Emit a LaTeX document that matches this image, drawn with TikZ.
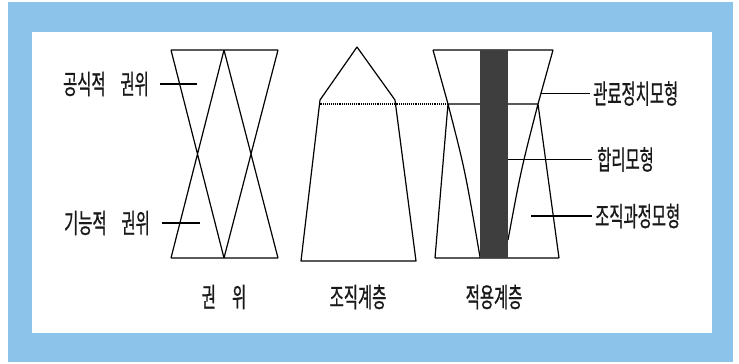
\documentclass[tikz,border=0pt]{standalone}
\usepackage{fontspec}
\newfontfamily\kor[FakeStretch=0.57,FakeBold=0.7]{Noto Sans CJK KR}
\usetikzlibrary{positioning}
\definecolor{panelblue}{RGB}{140,195,235}
\definecolor{bargray}{RGB}{62,62,62}

\begin{document}
\begin{tikzpicture}[x=1pt,y=-1pt]
  \tikzset{
    node distance=3pt,
    every node/.style={inner sep=0pt,text=black!90,font=\kor\fontsize{27}{27}\selectfont},
    edge/.style={line width=1.2pt,line join=round}
  }

  \useasboundingbox (0,0) rectangle (739,364);
  \fill[panelblue] (8,2) rectangle (733,362);
  \fill[white] (32,32) rectangle (712,333);

  % authority
  \coordinate (a1) at (171,50);  \coordinate (a2) at (224,50);  \coordinate (a3) at (278,50);
  \coordinate (a4) at (171,258); \coordinate (a5) at (224,258); \coordinate (a6) at (278,258);
  \draw[edge] (a1) -- (a3) (a4) -- (a6)
              (a1) -- (a5) -- (a3)
              (a4) -- (a2) -- (a6);

  % hierarchy
  \coordinate (h1) at (357,47);
  \coordinate (h2) at (320,100); \coordinate (h3) at (395,100);
  \coordinate (h4) at (301,261); \coordinate (h5) at (416,261);
  \coordinate (h6) at (319.5,104);
  \draw[edge] (h4) -- (h2) -- (h1) -- (h3) -- (h5) -- cycle;

  % applied
  \coordinate (r1) at (433,50);  \coordinate (r2) at (553,50);
  \coordinate (r3) at (435,258); \coordinate (r4) at (559,258);
  \coordinate (cl) at (448,104); \coordinate (cr) at (538,104);
  \coordinate (bl) at (480,104); \coordinate (br) at (508,104);
  \coordinate (bl2) at (480,257); \coordinate (br2) at (508,240);
  \draw[edge] (r1) -- (r2) (r3) -- (r4)
              (r1) -- (cl) .. controls (465,170) .. (bl2)
              (r3) -- (cl) -- (bl)
              (r2) -- (cr) .. controls (521,170) .. (br2)
              (r4) -- (cr) -- (br);
  \fill[bargray] (480,50) rectangle (508,258);
  \draw[line width=1.1pt,dash pattern=on 1pt off 0.9pt] (h6) -- (cl);

  % labels left
  \coordinate (k1) at (160,84);  \coordinate (k2) at (197,84);
  \coordinate (k3) at (162,223); \coordinate (k4) at (200,223);
  \node[left=11pt of k1] (l1) {공식적\hspace{0.55em}권위};
  \node[left=12pt of k3] (l2) {기능적\hspace{0.55em}권위};
  \draw[edge] (k1) -- (k2) (k3) -- (k4);

  % labels right
  \coordinate (m1) at (541,93.5);  \coordinate (n1) at (590,93.5);
  \coordinate (m2) at (508,159.5); \coordinate (n2) at (592,159.5);
  \coordinate (m3) at (531,216);   \coordinate (n3) at (592,216);
  \node[right=of n1] (t1) {관료정치모형};
  \node[right=5pt of n2] (t2) {합리모형};
  \node[right=of n3] (t3) {조직과정모형};
  \draw[edge] (m1) -- (n1) (m2) -- (n2) (m3) -- (n3);

  % captions
  \node (c1) at (224,297) {권\hspace{0.6em}위};
  \node (c2) at (358,297) {조직계층};
  \node (c3) at (494,297) {적용계층};
\end{tikzpicture}
\end{document}
